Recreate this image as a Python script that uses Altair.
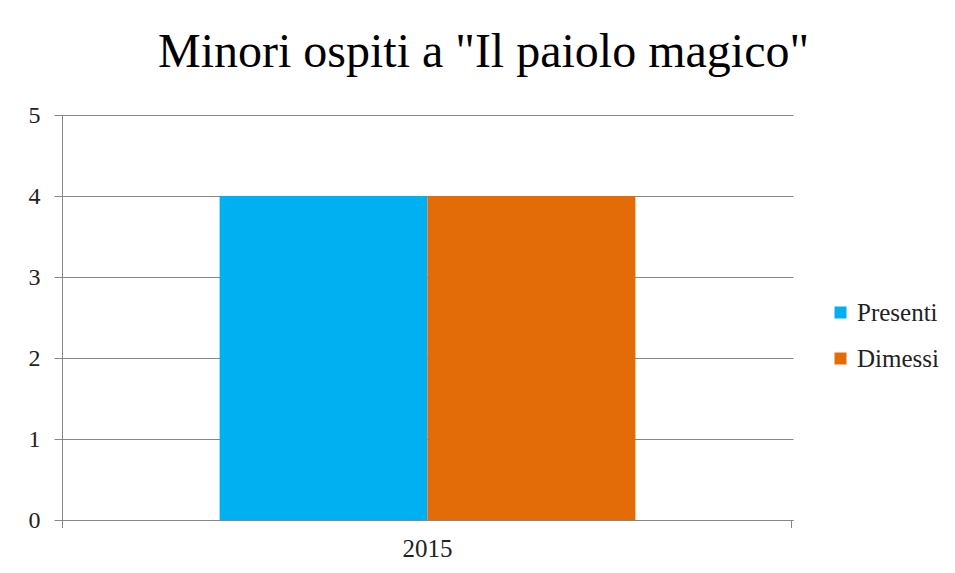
import altair as alt
import pandas as pd

years = ["2015"]
series = ["Presenti", "Dimessi"]
values = [4, 4]
colors = ["#00B0F0", "#E36C09"]
y_ticks = [0, 1, 2, 3, 4, 5]

df = pd.DataFrame({
    "anno": [years[0]] * len(series),
    "serie": series,
    "valore": values,
})

FONT = "Liberation Serif"

bars = alt.Chart(df).mark_bar(stroke=None).encode(
    x=alt.X("anno:N", title=None,
            scale=alt.Scale(paddingOuter=0.379, paddingInner=0),
            axis=alt.Axis(labelAngle=0, labelFont=FONT, labelFontSize=25,
                          labelColor="#222222", labelPadding=16,
                          domainColor="#868686", ticks=False, grid=False)),
    xOffset=alt.XOffset("serie:N", sort=series),
    y=alt.Y("valore:Q", title=None,
            scale=alt.Scale(domain=[0, 5], nice=False),
            axis=alt.Axis(values=y_ticks, labelFont=FONT, labelFontSize=24,
                          labelColor="#222222", labelPadding=14,
                          domainColor="#868686", tickColor="#868686",
                          tickSize=8, gridColor="#868686", gridOpacity=1)),
    color=alt.Color("serie:N", sort=series,
                    scale=alt.Scale(domain=series, range=colors),
                    legend=alt.Legend(title=None, orient="none",
                                      legendX=766, legendY=185,
                                      symbolType="square", symbolSize=144,
                                      symbolStrokeWidth=0,
                                      labelFont=FONT, labelFontSize=25,
                                      labelColor="#222222", rowPadding=20,
                                      labelOffset=4, labelLimit=200)),
)

edge_ticks = alt.Chart(df).mark_rule(color="#868686", strokeWidth=1).encode(
    x=alt.value(0.5), y=alt.value(405), y2=alt.value(413)
) + alt.Chart(df).mark_rule(color="#868686", strokeWidth=1).encode(
    x=alt.value(729.5), y=alt.value(405), y2=alt.value(413)
)

chart = alt.layer(bars, edge_ticks).properties(
    width=731,
    height=405,
    title=alt.TitleParams("Minori ospiti a \"Il paiolo magico\"",
                          font=FONT, fontSize=48, fontWeight="normal",
                          color="#000000", anchor="middle", dx=56, offset=26),
    padding={"left": 54, "top": 107, "right": 150, "bottom": 45},
    autosize=alt.AutoSizeParams(type="none"),
).configure_view(stroke=None).configure_axis(
    domainWidth=1, tickWidth=1
)

chart.save("out.html", embed_options={"renderer": "svg", "actions": False})
